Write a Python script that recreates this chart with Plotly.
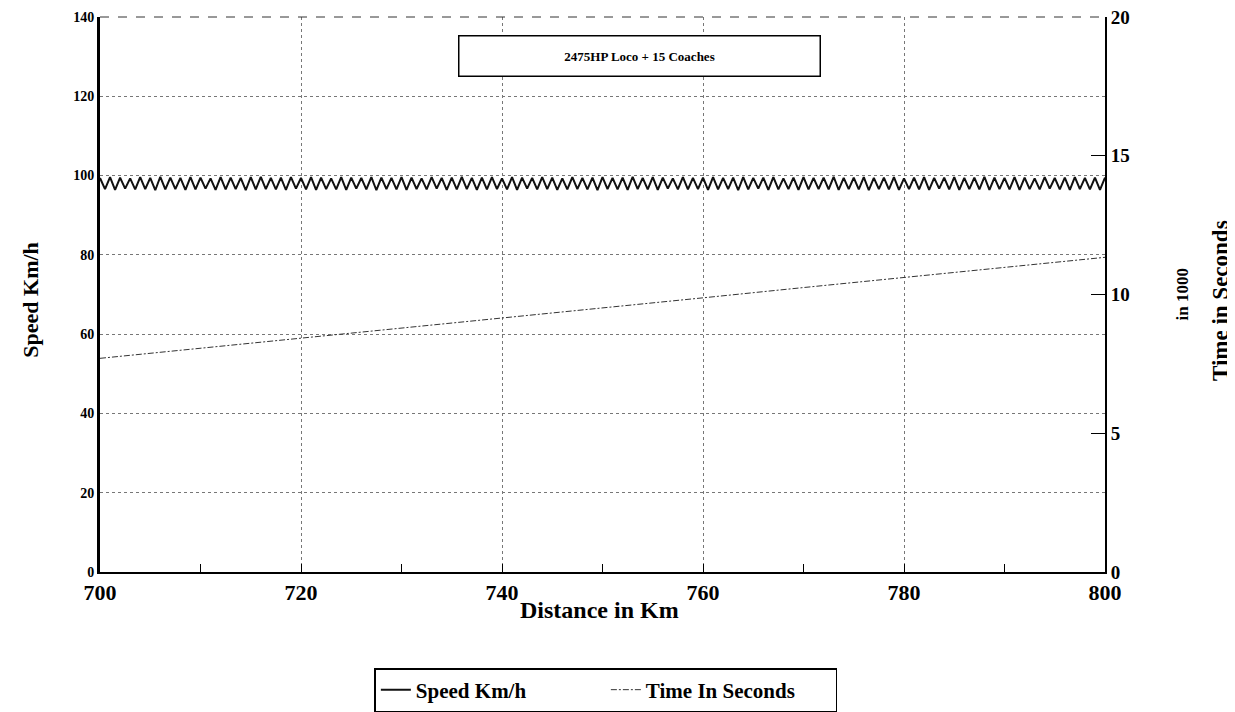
import plotly.graph_objects as go

# ---- data ----
speed_kmh = [
    99.4, 96.6, 99.6, 96.4, 99.5, 96.7, 99.3, 96.5, 99.6, 96.6, 99.4, 96.3, 99.7, 96.5, 99.5, 96.6, 99.4, 96.4, 99.6, 96.5,
    99.5, 96.7, 99.3, 96.4, 99.6, 96.5, 99.5, 96.6, 99.4, 96.3, 99.6, 96.5, 99.7, 96.6, 99.4, 96.5, 99.5, 96.4, 99.6, 96.7,
    99.4, 96.5, 99.6, 96.4, 99.5, 96.6, 99.3, 96.5, 99.6, 96.4, 99.5, 96.7, 99.4, 96.5, 99.6, 96.3, 99.5, 96.6, 99.4, 96.5,
    99.6, 96.4, 99.5, 96.6, 99.3, 96.5, 99.6, 96.7, 99.4, 96.4, 99.5, 96.5, 99.7, 96.6, 99.4, 96.4, 99.5, 96.5, 99.6, 96.6,
    99.3, 96.5, 99.6, 96.4, 99.5, 96.7, 99.4, 96.5, 99.6, 96.6, 99.5, 96.4, 99.3, 96.5, 99.6, 96.6, 99.4, 96.5, 99.5, 96.3,
    99.6, 96.6, 99.4, 96.5, 99.5, 96.4, 99.7, 96.6, 99.4, 96.5, 99.6, 96.4, 99.5, 96.7, 99.3, 96.5, 99.6, 96.5, 99.4, 96.6,
    99.5, 96.4, 99.6, 96.5, 99.4, 96.6, 99.5, 96.3, 99.6, 96.5, 99.4, 96.7, 99.5, 96.4, 99.6, 96.5, 99.3, 96.6, 99.5, 96.4,
    99.6, 96.5, 99.4, 96.6, 99.5, 96.5, 99.7, 96.4, 99.4, 96.6, 99.5, 96.5, 99.6, 96.3, 99.4, 96.6, 99.5, 96.5, 99.6, 96.4,
    99.3, 96.6, 99.5, 96.5, 99.6, 96.4, 99.4, 96.7, 99.5, 96.5, 99.6, 96.4, 99.4, 96.6, 99.5, 96.5, 99.7, 96.4, 99.5, 96.6,
    99.4, 96.5, 99.6, 96.4, 99.5, 96.6, 99.3, 96.5, 99.6, 96.7, 99.4, 96.5, 99.5, 96.4, 99.6, 96.6, 99.4, 96.5, 99.5, 96.4,
    99.5,
]
speed_distance_km = [700 + 0.5 * i for i in range(len(speed_kmh))]

time_distance_km = [700, 710, 720, 730, 740, 750, 760, 770, 780, 790, 800]
time_thousand_s = [7.70, 8.06, 8.42, 8.79, 9.15, 9.52, 9.88, 10.25, 10.61, 10.98, 11.34]

x_ticks = [700, 720, 740, 760, 780, 800]
x_minor_ticks = [710, 730, 750, 770, 790]
y_left_ticks = [0, 20, 40, 60, 80, 100, 120, 140]
y_right_ticks = [0, 5, 10, 15, 20]

SERIF = "Liberation Serif, Times New Roman, serif"

fig = go.Figure()
fig.add_trace(go.Scatter(
    x=speed_distance_km, y=speed_kmh, mode="lines", name="Speed Km/h",
    line=dict(color="#111111", width=2), yaxis="y",
))
fig.add_trace(go.Scatter(
    x=time_distance_km, y=time_thousand_s, mode="lines", name="Time In Seconds",
    line=dict(color="#333333", width=1, dash="6px,2px,2px,2px"), yaxis="y2",
))

fig.update_layout(
    width=1227, height=704,
    margin=dict(l=92, r=130, t=9, b=140, autoexpand=False),
    paper_bgcolor="white", plot_bgcolor="white",
    font=dict(family=SERIF, color="black"),
    showlegend=True,
    legend=dict(
        orientation="h", x=0.273, xanchor="left", y=-0.173, yanchor="top",
        font=dict(family=SERIF, size=21, color="black", weight="bold"),
        bordercolor="black", borderwidth=1.5, itemwidth=30,
        entrywidth=185, entrywidthmode="pixels",
        bgcolor="white",
    ),
    xaxis=dict(
        range=[700, 800], tickvals=x_ticks, ticktext=[str(v) for v in x_ticks],
        showgrid=True, gridcolor="#777777", griddash="dot", gridwidth=1,
        showline=True, linecolor="black", linewidth=2, mirror=False,
        ticks="inside", ticklen=8, tickcolor="black",
        minor=dict(tickvals=x_minor_ticks, ticks="inside", ticklen=8, tickcolor="black", showgrid=False),
        tickfont=dict(family=SERIF, size=22, color="black", weight="bold"),
        ticklabeloverflow="allow",
        zeroline=False, automargin=False,
    ),
    yaxis=dict(
        range=[0, 140], tickvals=y_left_ticks,
        showgrid=True, gridcolor="#777777", griddash="dot", gridwidth=1,
        showline=True, linecolor="black", linewidth=3,
        ticks="", tickfont=dict(family=SERIF, size=14, color="black", weight="bold"),
        ticklabeloverflow="allow",
        zeroline=False, automargin=False,
    ),
    yaxis2=dict(
        range=[0, 20], tickvals=y_right_ticks, overlaying="y", side="right",
        showgrid=False, showline=True, linecolor="black", linewidth=2,
        ticks="inside", ticklen=14, tickcolor="black",
        tickfont=dict(family=SERIF, size=19, color="black", weight="bold"),
        ticklabeloverflow="allow",
        zeroline=False, automargin=False,
    ),
)

# dashed top frame
fig.add_shape(type="line", xref="paper", yref="paper", x0=0, x1=1, y0=1, y1=1,
              line=dict(color="#333333", width=1, dash="dash"))

# title box
fig.add_annotation(
    text="2475HP Loco + 15 Coaches", xref="paper", yref="paper", x=0.537, y=0.967,
    xanchor="center", yanchor="top", showarrow=False,
    font=dict(family=SERIF, size=13, color="black", weight="bold"),
    bordercolor="black", borderwidth=1.5, borderpad=12, bgcolor="white", width=336,
)

# axis titles
fig.add_annotation(
    text="Speed Km/h", xref="paper", yref="paper", x=-0.07, y=0.49, xanchor="center", yanchor="middle",
    textangle=-90, showarrow=False, font=dict(family=SERIF, size=22, color="black", weight="bold"),
)
fig.add_annotation(
    text="Distance in Km", xref="paper", yref="paper", x=0.4975, y=-0.068, xanchor="center", yanchor="middle",
    showarrow=False, font=dict(family=SERIF, size=24, color="black", weight="bold"),
)
fig.add_annotation(
    text="in 1000", xref="paper", yref="paper", x=1.0776, y=0.5, xanchor="center", yanchor="middle",
    textangle=-90, showarrow=False, font=dict(family=SERIF, size=17, color="black", weight="bold"),
)
fig.add_annotation(
    text="Time in Seconds", xref="paper", yref="paper", x=1.1144, y=0.49, xanchor="center", yanchor="middle",
    textangle=-90, showarrow=False, font=dict(family=SERIF, size=23, color="black", weight="bold"),
)

fig.write_html("out.html")
